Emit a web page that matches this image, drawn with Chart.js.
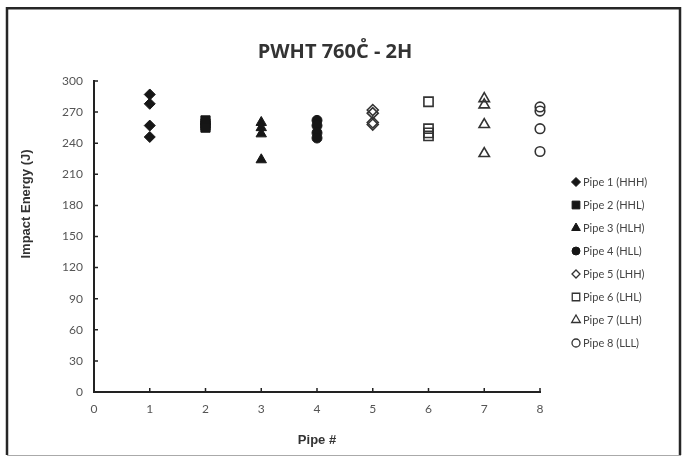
<!DOCTYPE html>
<html><head><meta charset="utf-8">
<script src="https://cdn.jsdelivr.net/npm/chart.js@4.4.1/dist/chart.umd.min.js"></script>
<style>html,body{margin:0;padding:0;background:#fff;} canvas{display:block}</style>
</head><body>
<canvas id="c" width="684" height="457"></canvas>
<script>
// ---- data ----
const titleText = 'PWHT 760C\u030A - 2H';
const xAxisTitle = 'Pipe #';
const yAxisTitle = 'Impact Energy (J)';
const pipeNumbers = [1, 2, 3, 4, 5, 6, 7, 8];
const seriesLabels = ['Pipe 1 (HHH)', 'Pipe 2 (HHL)', 'Pipe 3 (HLH)', 'Pipe 4 (HLL)',
                      'Pipe 5 (LHH)', 'Pipe 6 (LHL)', 'Pipe 7 (LLH)', 'Pipe 8 (LLL)'];
const pipe1 = [287, 278, 257, 246];
const pipe2 = [262, 259, 257, 255];
const pipe3 = [260, 255, 249, 224];
const pipe4 = [262, 257, 250, 245];
const pipe5 = [272, 269, 260, 258];
const pipe6 = [280, 254, 250, 247];
const pipe7 = [283, 277, 258, 230];
const pipe8 = [275, 271, 254, 232];
const seriesValues = [pipe1, pipe2, pipe3, pipe4, pipe5, pipe6, pipe7, pipe8];
const yTickMin = 0, yTickMax = 300, yTickStep = 30;
const xTickMin = 0, xTickMax = 8, xTickStep = 1;

// ---- styles ----
const styles = [
  {ps: 'rectRot', r: 5.5, fill: '#161616', stroke: '#161616', bw: 1, lr: 4.5},
  {ps: 'rect', r: 6.5, fill: '#161616', stroke: '#161616', bw: 1, lr: 5.5},
  {ps: 'triangle', r: 6, fill: '#161616', stroke: '#161616', bw: 1, lr: 5},
  {ps: 'circle', r: 5, fill: '#161616', stroke: '#161616', bw: 1, lr: 4},
  {ps: 'rectRot', r: 5.5, fill: 'rgba(0,0,0,0)', stroke: '#333', bw: 1.6, lr: 4},
  {ps: 'rect', r: 6.5, fill: 'rgba(0,0,0,0)', stroke: '#333', bw: 1.6, lr: 5.3},
  {ps: 'triangle', r: 6, fill: 'rgba(0,0,0,0)', stroke: '#333', bw: 1.6, lr: 5},
  {ps: 'circle', r: 4.8, fill: 'rgba(0,0,0,0)', stroke: '#333', bw: 1.6, lr: 4}
];
const tickColor = '#555';
const tickFont = {family: 'Lato', size: 12};
const AREA = {left: 94, right: 540, top: 81, bottom: 392};

const datasets = seriesValues.map((vals, i) => ({
  label: seriesLabels[i],
  data: vals.map(v => ({x: pipeNumbers[i], y: v})),
  showLine: false,
  clip: false,
  pointStyle: styles[i].ps,
  pointRadius: styles[i].r,
  pointHoverRadius: styles[i].r,
  pointBackgroundColor: styles[i].fill,
  pointBorderColor: styles[i].stroke,
  pointBorderWidth: styles[i].bw,
  backgroundColor: styles[i].fill,
  borderColor: styles[i].stroke
}));

const decor = {
  id: 'decor',
  afterDraw(chart) {
    const ctx = chart.ctx;
    const xs = chart.scales.x, ys = chart.scales.y;
    ctx.save();
    // inner tick marks
    ctx.strokeStyle = '#222';
    ctx.lineWidth = 1.5;
    ctx.beginPath();
    xs.ticks.forEach(t => {
      const px = xs.getPixelForValue(t.value);
      ctx.moveTo(px, xs.top); ctx.lineTo(px, xs.top - 4);
    });
    ys.ticks.forEach(t => {
      const py = ys.getPixelForValue(t.value);
      ctx.moveTo(ys.right, py); ctx.lineTo(ys.right + 4, py);
    });
    ctx.stroke();
    // frame
    ctx.strokeStyle = '#262626';
    ctx.lineWidth = 2.5;
    ctx.beginPath();
    ctx.moveTo(7, 455); ctx.lineTo(7, 8.2); ctx.lineTo(680, 8.2); ctx.lineTo(680, 455);
    ctx.stroke();
    ctx.strokeStyle = '#aaa';
    ctx.lineWidth = 1;
    ctx.beginPath(); ctx.moveTo(7, 455.5); ctx.lineTo(681, 455.5); ctx.stroke();
    // title
    ctx.fillStyle = '#333';
    ctx.textAlign = 'center';
    ctx.textBaseline = 'alphabetic';
    ctx.font = 'bold 20px "Open Sans"';
    ctx.fillText(titleText, 335, 57.5);
    // axis titles
    ctx.font = 'bold 13px "Liberation Sans"';
    ctx.fillStyle = '#333';
    ctx.textBaseline = 'middle';
    ctx.fillText(xAxisTitle, (AREA.left + AREA.right) / 2, 440);
    ctx.save();
    ctx.translate(26, 204);
    ctx.rotate(-Math.PI / 2);
    ctx.fillText(yAxisTitle, 0, 0);
    ctx.restore();
    // legend
    ctx.font = '11px Lato';
    ctx.textAlign = 'left';
    ctx.textBaseline = 'middle';
    seriesLabels.forEach((lab, i) => {
      const y = 182 + 23 * i;
      const s = styles[i];
      ctx.fillStyle = s.fill;
      ctx.strokeStyle = s.stroke;
      ctx.lineWidth = s.bw > 1 ? 1.3 : 1;
      Chart.helpers.drawPoint(ctx, {pointStyle: s.ps, radius: s.lr, borderWidth: ctx.lineWidth, rotation: 0}, 576, y);
      ctx.fillStyle = '#444';
      ctx.fillText(lab, 583, y);
    });
    ctx.restore();
  }
};

new Chart(document.getElementById('c'), {
  type: 'scatter',
  data: {datasets},
  options: {
    responsive: false,
    animation: false,
    events: [],
    layout: {padding: {left: 0, top: AREA.top, right: 684 - AREA.right, bottom: 0}},
    plugins: {legend: {display: false}, title: {display: false}, tooltip: {enabled: false}},
    scales: {
      x: {
        type: 'linear', min: xTickMin, max: xTickMax,
        afterFit: s => { s.height = 457 - AREA.bottom; },
        ticks: {stepSize: xTickStep, color: tickColor, font: tickFont, padding: 10},
        grid: {display: false, drawTicks: false},
        border: {display: true, color: '#222', width: 2}
      },
      y: {
        type: 'linear', min: yTickMin, max: yTickMax,
        afterFit: s => { s.width = AREA.left; },
        ticks: {stepSize: yTickStep, color: tickColor, font: tickFont, padding: 11},
        grid: {display: false, drawTicks: false},
        border: {display: true, color: '#222', width: 2}
      }
    }
  },
  plugins: [decor]
});
</script>
</body></html>
